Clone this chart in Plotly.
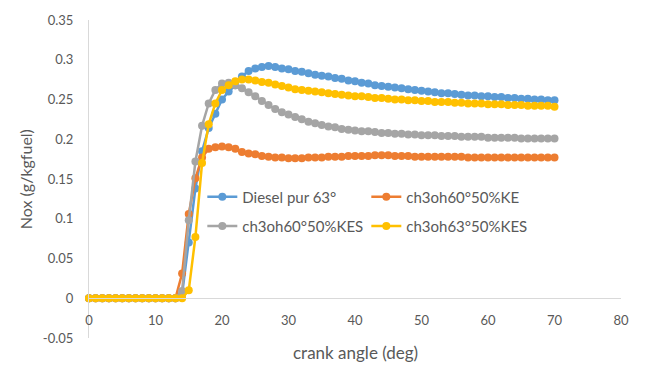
import plotly.graph_objects as go

# crank angle (deg), one sample per degree
crank_angle = list(range(0, 71))

diesel_pur_63 = [0]*14 + [
    0.005, 0.070, 0.138, 0.185, 0.214, 0.232, 0.250, 0.260, 0.268, 0.279,
    0.286, 0.289, 0.291, 0.292, 0.291, 0.289, 0.288, 0.286, 0.285, 0.283,
    0.281, 0.280, 0.279, 0.277, 0.276, 0.274, 0.273, 0.271, 0.270, 0.268,
    0.267, 0.266, 0.265, 0.264, 0.263, 0.262, 0.261, 0.260, 0.259, 0.258,
    0.258, 0.257, 0.256, 0.255, 0.255, 0.254, 0.254, 0.253, 0.253, 0.252,
    0.252, 0.251, 0.251, 0.250, 0.250, 0.249, 0.249]

ch3oh60_ke = [0]*14 + [
    0.031, 0.106, 0.151, 0.177, 0.188, 0.190, 0.191, 0.190, 0.188, 0.184,
    0.182, 0.181, 0.179, 0.178, 0.177, 0.177, 0.176, 0.176, 0.176, 0.177,
    0.177, 0.177, 0.178, 0.178, 0.178, 0.179, 0.179, 0.179, 0.179, 0.180,
    0.180, 0.180, 0.179, 0.179, 0.179, 0.178, 0.178, 0.178, 0.178, 0.178,
    0.178, 0.178, 0.178, 0.177, 0.177, 0.177, 0.177, 0.177, 0.177, 0.177,
    0.177, 0.177, 0.177, 0.177, 0.177, 0.177, 0.177]

ch3oh60_kes = [0]*14 + [
    0.009, 0.098, 0.172, 0.217, 0.245, 0.262, 0.270, 0.271, 0.268, 0.264,
    0.259, 0.254, 0.248, 0.243, 0.238, 0.234, 0.231, 0.228, 0.225, 0.222,
    0.220, 0.218, 0.216, 0.215, 0.213, 0.212, 0.211, 0.210, 0.210, 0.209,
    0.208, 0.208, 0.207, 0.207, 0.206, 0.206, 0.205, 0.205, 0.205, 0.204,
    0.204, 0.204, 0.203, 0.203, 0.203, 0.203, 0.202, 0.202, 0.202, 0.202,
    0.202, 0.201, 0.201, 0.201, 0.201, 0.201, 0.201]

ch3oh63_kes = [0]*15 + [
    0.010, 0.077, 0.170, 0.219, 0.245, 0.262, 0.268, 0.273, 0.275,
    0.275, 0.274, 0.272, 0.271, 0.269, 0.267, 0.265, 0.263, 0.262, 0.261,
    0.260, 0.259, 0.258, 0.257, 0.256, 0.255, 0.254, 0.254, 0.253, 0.252,
    0.252, 0.251, 0.250, 0.250, 0.249, 0.249, 0.248, 0.248, 0.247, 0.247,
    0.247, 0.246, 0.246, 0.245, 0.245, 0.245, 0.244, 0.244, 0.244, 0.243,
    0.243, 0.243, 0.242, 0.242, 0.242, 0.242, 0.241]

series_names = ["Diesel pur 63°", "ch3oh60°50%KE", "ch3oh60°50%KES", "ch3oh63°50%KES"]
series_values = [diesel_pur_63, ch3oh60_ke, ch3oh60_kes, ch3oh63_kes]
series_colors = ["#5B9BD5", "#ED7D31", "#A5A5A5", "#FFC000"]
series_legends = ["legend", "legend", "legend2", "legend2"]

y_tick_values = [-0.05, 0, 0.05, 0.1, 0.15, 0.2, 0.25, 0.3, 0.35]
y_tick_labels = ["-0.05", "0", "0.05", "0.1", "0.15", "0.2", "0.25", "0.3", "0.35"]
x_tick_values = [0, 10, 20, 30, 40, 50, 60, 70, 80]

FONT = "Lato"
TEXT_GREY = "#595959"
AXIS_GREY = "#D9D9D9"

fig = go.Figure()
for name, vals, color, leg in zip(series_names, series_values, series_colors, series_legends):
    fig.add_trace(go.Scatter(
        x=crank_angle, y=vals, name=name, mode="lines+markers",
        line=dict(color=color, width=2.5),
        marker=dict(color=color, size=8),
        cliponaxis=False, legend=leg,
    ))

legend_common = dict(
    orientation="h", xanchor="left", yanchor="top", entrywidth=119,
    bgcolor="rgba(0,0,0,0)", font=dict(family=FONT, size=15, color=TEXT_GREY),
    tracegroupgap=0, itemwidth=30,
)

fig.update_layout(
    width=649, height=371,
    margin=dict(l=89, r=28, t=12, b=33),
    paper_bgcolor="white", plot_bgcolor="white",
    font=dict(family=FONT, size=13, color=TEXT_GREY),
    xaxis=dict(
        range=[0, 80], tickvals=x_tick_values, showgrid=False, zeroline=False,
        showline=True, linecolor=AXIS_GREY, linewidth=1,
        anchor="free", position=0.125, ticks="", ticklabelstandoff=10,
        tickfont=dict(family=FONT, size=13, color=TEXT_GREY),
    ),
    yaxis=dict(
        range=[-0.05, 0.35], tickvals=y_tick_values, ticktext=y_tick_labels,
        showgrid=False, zeroline=False, showline=True, linecolor=AXIS_GREY,
        linewidth=1, ticks="", ticklabelstandoff=12,
        tickfont=dict(family=FONT, size=13, color=TEXT_GREY),
    ),
    legend=dict(x=0.213, y=0.495, **legend_common),
    legend2=dict(x=0.213, y=0.403, **legend_common),
    annotations=[
        dict(text="crank angle (deg)", xref="paper", yref="paper", x=0.5, y=-0.046,
             xanchor="center", yanchor="middle", showarrow=False,
             font=dict(family=FONT, size=17, color=TEXT_GREY)),
        dict(text="Nox (g/kgfuel)", xref="paper", yref="paper", x=-0.12, y=0.5,
             xanchor="center", yanchor="middle", textangle=-90, showarrow=False,
             font=dict(family=FONT, size=16, color=TEXT_GREY)),
    ],
    showlegend=True,
)

fig.write_html("out.html")
